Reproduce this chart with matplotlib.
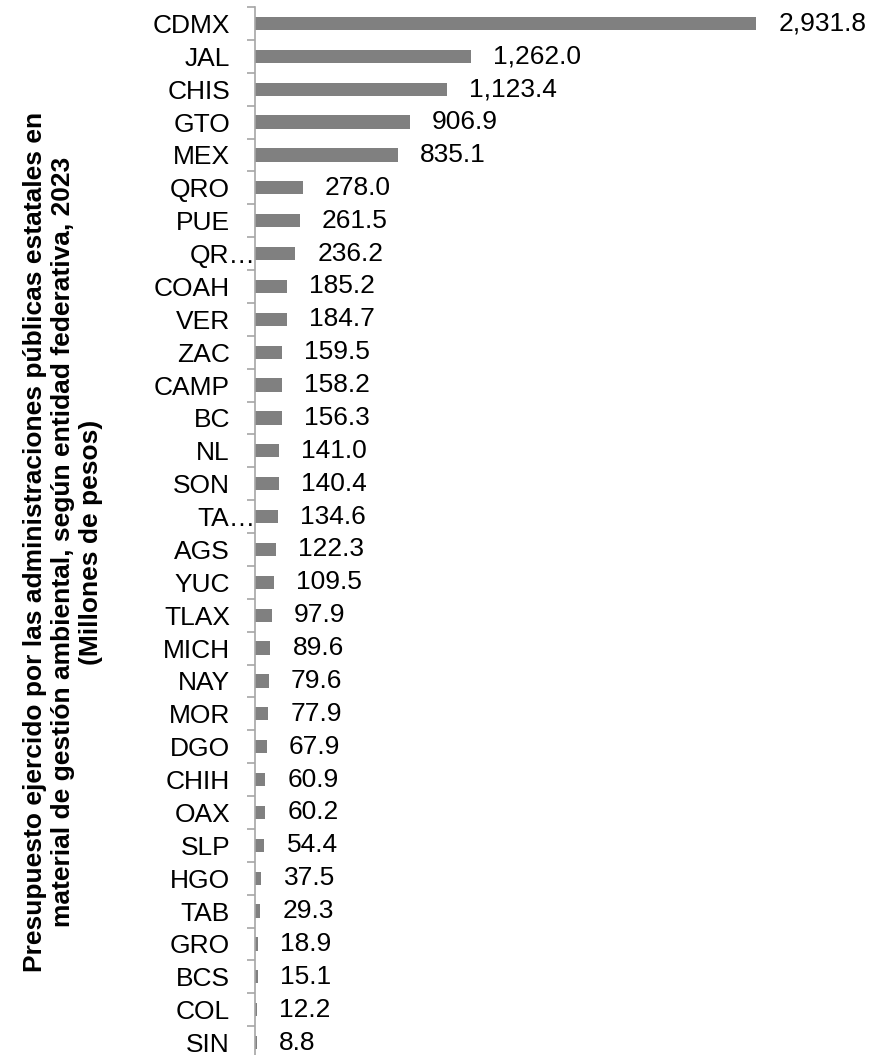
import matplotlib.pyplot as plt
import numpy as np
from matplotlib.ticker import FixedLocator
from matplotlib.transforms import ScaledTranslation

plt.rcParams['font.family'] = ['Liberation Sans', 'DejaVu Sans']

# Datos
estados = ['CDMX', 'JAL', 'CHIS', 'GTO', 'MEX', 'QRO', 'PUE', 'QR…', 'COAH', 'VER',
           'ZAC', 'CAMP', 'BC', 'NL', 'SON', 'TA…', 'AGS', 'YUC', 'TLAX', 'MICH',
           'NAY', 'MOR', 'DGO', 'CHIH', 'OAX', 'SLP', 'HGO', 'TAB', 'GRO', 'BCS',
           'COL', 'SIN']
valores = [2931.8, 1262.0, 1123.4, 906.9, 835.1, 278.0, 261.5, 236.2, 185.2, 184.7,
           159.5, 158.2, 156.3, 141.0, 140.4, 134.6, 122.3, 109.5, 97.9, 89.6,
           79.6, 77.9, 67.9, 60.9, 60.2, 54.4, 37.5, 29.3, 18.9, 15.1,
           12.2, 8.8]
titulo = ('Presupuesto ejercido por las administraciones públicas estatales en\n'
          'material de gestión ambiental, según entidad federativa, 2023\n'
          '(Millones de pesos)')

W, H = 871, 1055
fig = plt.figure(figsize=(W / 100, H / 100), dpi=100)

left = 255 / W
right = 862 / W
top = 1 - 7 / H
bottom = 1 - 1059 / H
ax = fig.add_axes([left, bottom, right - left, top - bottom])

n = len(estados)
y = np.arange(n)
ax.barh(y, valores, height=0.4, color='#808080')

px_per_unit = 501 / 2931.8
ax.set_xlim(0, (862 - 255) / px_per_unit)
ax.set_ylim(n - 0.5, -0.5)

for yi, v in zip(y, valores):
    ax.annotate(f'{v:,.1f}', xy=(v, yi), xytext=(16, 0), textcoords='offset points',
                va='center', ha='left', fontsize=19)

ax.set_yticks(y)
ax.set_yticklabels(estados, fontsize=19)
ax.tick_params(axis='y', which='major', length=0, pad=18)
ax.yaxis.set_minor_locator(FixedLocator(np.arange(-0.5, n, 1.0)))
ax.tick_params(axis='y', which='minor', length=6, color='#a6a6a6', width=1.2)

# etiquetas truncadas: el "…" sobresale hasta el eje
for lbl in ax.get_yticklabels():
    if lbl.get_text().endswith('…'):
        lbl.set_transform(lbl.get_transform() +
                          ScaledTranslation(26 / 100, 0, fig.dpi_scale_trans))

ax.set_xticks([])
for s in ['top', 'right', 'bottom']:
    ax.spines[s].set_visible(False)
ax.spines['left'].set_color('#a6a6a6')
ax.spines['left'].set_linewidth(1.2)

fig.text(63 / W, 1 - 542 / H, titulo, rotation=90, ha='center', va='center',
         multialignment='center', fontsize=19, fontweight='bold', linespacing=1.2)

fig.savefig('out.png', dpi=100)
